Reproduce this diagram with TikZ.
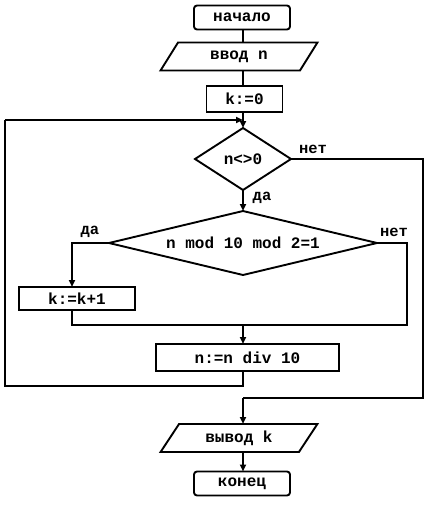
\documentclass[tikz,border=0pt]{standalone}
\usepackage{fontspec}
\setmonofont{Liberation Mono}
\usetikzlibrary{arrows.meta,shapes.geometric}
\begin{document}
\begin{tikzpicture}[x=1pt,y=-1pt,
  every node/.style={font=\ttfamily\bfseries\fontsize{16}{18}\selectfont, inner sep=0pt, outer sep=0pt},
  ln/.style={line width=1.9pt},
  arr/.style={ln,-{Triangle[length=7pt,width=6pt]}},
  term/.style={draw, ln, rounded corners=3pt, minimum width=96pt, minimum height=24pt},
  io/.style={draw, ln, trapezium, trapezium left angle=55, trapezium right angle=125, trapezium stretches=true, minimum width=158pt, minimum height=28pt},
  proc/.style={draw, ln, rectangle},
  cond/.style={draw, ln, diamond},
  lbl/.style={font=\ttfamily\bfseries\fontsize{15.5}{17}\selectfont}]
\useasboundingbox[fill=white] (0,0) rectangle (431,506);
\node[term] (start) at (242,17.5) {начало};
\node[io] (inp) at (239,56.5) {ввод n};
\node[proc, minimum width=76pt, minimum height=26pt] (k0) at (244.5,99) {k:=0};
\node[cond, aspect=1.55, minimum width=96pt, minimum height=62pt] (c1) at (243,159) {n<>0};
\node[cond, aspect=4.19, minimum width=268pt, minimum height=64pt] (c2) at (243,243) {n mod 10 mod 2=1};
\node[proc, minimum width=116pt, minimum height=23pt] (inc) at (77,298.5) {k:=k+1};
\node[proc, minimum width=183pt, minimum height=27pt] (div) at (247.5,357.5) {n:=n div 10};
\node[io] (out) at (239,438) {вывод k};
\node[term] (stop) at (242,483.5) {конец};

\coordinate (loopin) at (243,120);
\coordinate (j1) at (243,325);
\draw[ln] (start.south -| loopin) -- (inp.north -| loopin);
\draw[ln] (inp.south -| loopin) -- (k0.north -| loopin);
\draw[arr] (k0.south -| loopin) -- (c1.north);
\draw[arr] (c1.south) -- (c2.north);
\draw[arr] (c2.west) -| (72,0 |- inc.north);
\draw[ln] (c2.east) -| (407,325) -- (72,325) -- (inc.south -| 72,0);
\draw[arr] (j1) -- (div.north -| j1);
\draw[ln] (div.south -| j1) -- (243,386) -- (5,386) -- (5,120);
\draw[arr] (5,120) -- (loopin);
\draw[ln] (c1.east) -- (423,159) -- (423,398) -- (243,398);
\draw[arr] (243,398) -- (out.north -| j1);
\draw[arr] (out.south -| j1) -- (stop.north -| j1);

\node[lbl] (no1) at (313,149) {нет};
\node[lbl] (yes1) at (262,198) {да};
\node[lbl] (yes2) at (90,232) {да};
\node[lbl] (no2) at (394,232) {нет};
\end{tikzpicture}
\end{document}
